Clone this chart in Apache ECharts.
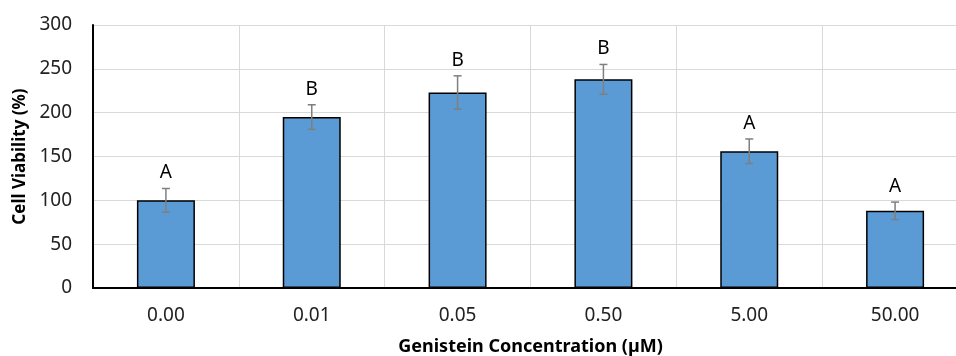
<!DOCTYPE html>
<html>
<head>
<meta charset="utf-8">
<script src="https://cdn.jsdelivr.net/npm/echarts@6/dist/echarts.min.js"></script>
<style>
html, body { margin: 0; padding: 0; background: #fff; }
#chart { width: 956px; height: 356px; }
</style>
</head>
<body>
<div id="chart"></div>
<script>
let chart = echarts.init(document.getElementById('chart'));

/* categories and values */
let conc = ['0.00', '0.01', '0.05', '0.50', '5.00', '50.00'];
let viability = [100, 195, 223, 238, 156, 88];
let errs = [13.5, 14, 19, 17, 14, 10];
let letters = ['A', 'B', 'B', 'B', 'A', 'A'];

let fontName = '"Noto Sans", "Open Sans", sans-serif';

let errData = viability.map(function (v, i) {
    return [i, v, errs[i]];
});

let option = {
    animation: false,
    grid: {
        left: 93,
        top: 25,
        width: 875,
        bottom: 68,
        outerBoundsMode: 'none',
        containLabel: false
    },
    xAxis: {
        type: 'category',
        data: conc,
        name: 'Genistein Concentration (µM)',
        nameLocation: 'middle',
        nameGap: 50,
        nameTextStyle: {
            fontFamily: fontName,
            fontWeight: 'bold',
            fontSize: 18,
            color: '#000'
        },
        axisTick: { show: false },
        axisLine: { lineStyle: { color: '#000', width: 2 } },
        axisLabel: {
            fontFamily: fontName,
            fontSize: 19,
            color: '#222',
            margin: 18
        },
        splitLine: { show: true, lineStyle: { color: '#d9d9d9', width: 1 } }
    },
    yAxis: {
        type: 'value',
        min: 0,
        max: 300,
        interval: 50,
        name: 'Cell Viability (%)',
        nameLocation: 'middle',
        nameGap: 60,
        nameTextStyle: {
            fontFamily: fontName,
            fontWeight: 'bold',
            fontSize: 17,
            color: '#000'
        },
        axisLine: { show: true, lineStyle: { color: '#000', width: 2 } },
        axisTick: { show: false },
        axisLabel: {
            fontFamily: fontName,
            fontSize: 19,
            color: '#222',
            margin: 21
        },
        splitLine: { lineStyle: { color: '#d9d9d9', width: 1 } }
    },
    series: [
        {
            name: 'viability',
            type: 'bar',
            data: viability,
            barWidth: 58,
            itemStyle: {
                color: '#5b9bd5',
                borderColor: '#000',
                borderWidth: 1.5
            },
            z: 2
        },
        {
            name: 'error',
            type: 'custom',
            data: errData,
            z: 3,
            renderItem: function (params, api) {
                let i = api.value(0);
                let v = api.value(1);
                let e = api.value(2);
                let top = api.coord([i, v + e]);
                let bot = api.coord([i, v - e]);
                let cap = 4;
                let style = { stroke: '#7f7f7f', lineWidth: 1.5 };
                return {
                    type: 'group',
                    children: [
                        { type: 'line', shape: { x1: top[0], y1: top[1], x2: bot[0], y2: bot[1] }, style: style },
                        { type: 'line', shape: { x1: top[0] - cap, y1: top[1], x2: top[0] + cap, y2: top[1] }, style: style },
                        { type: 'line', shape: { x1: bot[0] - cap, y1: bot[1], x2: bot[0] + cap, y2: bot[1] }, style: style },
                        {
                            type: 'text',
                            x: top[0],
                            y: top[1] - 6,
                            style: {
                                text: letters[params.dataIndex],
                                fontFamily: fontName,
                                fontSize: 19,
                                fill: '#000',
                                align: 'center',
                                verticalAlign: 'bottom'
                            }
                        }
                    ]
                };
            }
        }
    ]
};

chart.setOption(option);
</script>
</body>
</html>
